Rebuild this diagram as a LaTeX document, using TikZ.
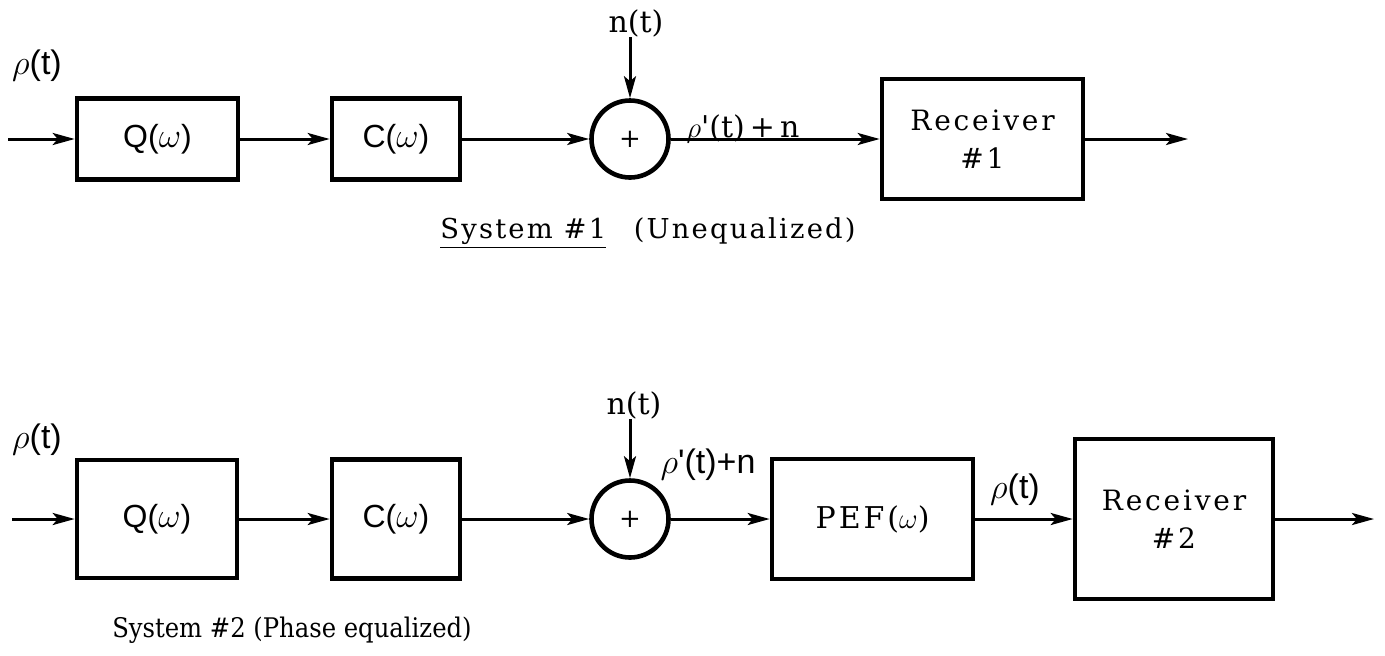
\documentclass[tikz,border=0pt]{standalone}
\usepackage{fontspec}
\usetikzlibrary{arrows.meta}
\newfontfamily\serifx{DejaVu Serif}
\newfontfamily\serifsp[LetterSpace=10]{DejaVu Serif}
\newfontfamily\serifcap[LetterSpace=8]{DejaVu Serif}
\newfontfamily\serifcond{DejaVu Serif Condensed}
\newfontfamily\sansx{Liberation Sans}
\begin{document}
\begin{tikzpicture}[x=0.5pt,y=-0.5pt,
  block/.style={draw,line width=2.3pt,inner sep=0pt,font=\fontsize{16}{19}\sansx},
  summer/.style={draw,circle,line width=2.3pt,minimum size=38.5pt,inner sep=0pt,font=\fontsize{13}{15}\serifx},
  sig/.style={line width=1.5pt,-{Stealth[length=11pt,width=6pt,inset=2.5pt]}},
  lab/.style={inner sep=0pt,font=\fontsize{17}{20}\sansx},
  serlab/.style={inner sep=0pt,font=\fontsize{15}{18}\serifx},
  rec/.style={block,align=center,font=\fontsize{14}{19}\serifsp}]
\useasboundingbox (0,0) rectangle (1385,655);

% ---------- System 1 ----------
\coordinate (in1) at (8,139);
\node[lab] (rho1) at (37,66) {$\rho$(t)};
\node[block,minimum width=80.5pt,minimum height=40.5pt] (q1) at (157.5,139) {Q($\omega$)};
\node[block,minimum width=64pt,minimum height=40.5pt] (c1) at (396,139) {C($\omega$)};
\node[summer] (s1) at (630,139) {+};
\node[serlab] (n1) at (636,23) {n(t)};
\node[serlab,anchor=base] (y1) at (743,137) {$\rho$'(t)\,+\,n};
\node[rec,minimum width=100.5pt,minimum height=60pt] (r1) at (982.5,139) {Receiver\\\#1};
\coordinate (out1) at (1188,139);
\node[inner sep=0pt,font=\fontsize{13.7}{17}\serifcap] (cap1) at (648,233)
  {\underline{System \#1}\quad(Unequalized)};

\draw[sig] (in1) -- (q1);
\draw[sig] (q1) -- (c1);
\draw[sig] (c1) -- (s1);
\draw[sig] (n1.south -| s1.north) -- (s1.north);
\draw[sig] (s1) -- (r1);
\draw[sig] (r1) -- (out1);

% ---------- System 2 ----------
\coordinate (in2) at (12,519);
\node[lab] (rho2) at (37,440) {$\rho$(t)};
\node[block,minimum width=80pt,minimum height=59pt] (q2) at (157,519) {Q($\omega$)};
\node[block,minimum width=64pt,minimum height=59.5pt] (c2) at (396,519) {C($\omega$)};
\node[summer] (s2) at (630,519) {+};
\node[serlab] (n2) at (634,405) {n(t)};
\node[lab] (y2) at (708,465) {$\rho$'(t)+n};
\node[rec,minimum width=100.5pt,minimum height=60pt,font=\fontsize{15}{19}\serifsp] (pef) at (872.5,519) {PEF($\omega$)};
\node[lab] (rho3) at (1015,490) {$\rho$(t)};
\node[rec,minimum width=99pt,minimum height=80pt] (r2) at (1174,519) {Receiver\\\#2};
\coordinate (out2) at (1374,519);
\node[inner sep=0pt,font=\fontsize{13.5}{17}\serifcond] (cap2) at (292,630)
  {System \#2 (Phase equalized)};

\draw[sig] (in2) -- (q2);
\draw[sig] (q2) -- (c2);
\draw[sig] (c2) -- (s2);
\draw[sig] (n2.south -| s2.north) -- (s2.north);
\draw[sig] (s2) -- (pef);
\draw[sig] (pef) -- (r2);
\draw[sig] (r2) -- (out2);
\end{tikzpicture}
\end{document}
